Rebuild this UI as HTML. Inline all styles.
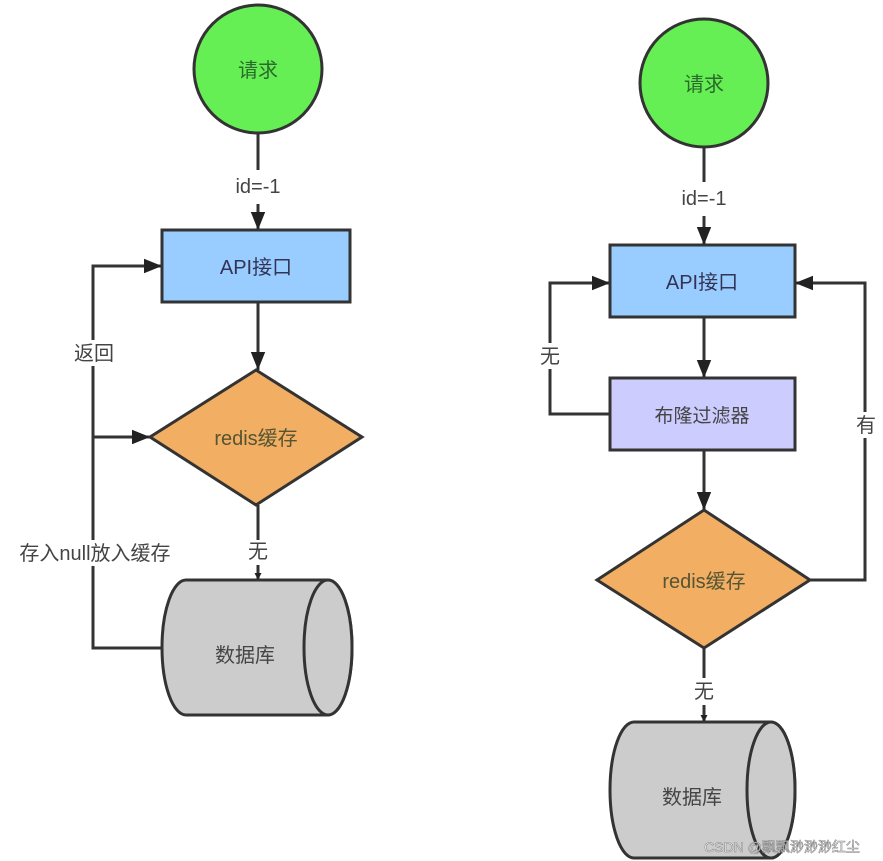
<!DOCTYPE html>
<html><head><meta charset="utf-8"><style>body{margin:0;background:#fff}svg{display:block}text{font-family:"Liberation Sans","Noto Sans CJK SC",sans-serif}</style></head><body>
<svg width="883" height="861" viewBox="0 0 883 861">
<defs><marker id="a" viewBox="0 0 10 10" refX="10" refY="5" markerWidth="7" markerHeight="7" orient="auto" markerUnits="userSpaceOnUse"><path d="M0,0L10,5L0,10z" fill="#222"/></marker>
<marker id="b" viewBox="0 0 10 10" refX="10" refY="5" markerWidth="18" markerHeight="18" orient="auto" markerUnits="userSpaceOnUse"><path d="M0,1L10,5L0,9z" fill="#222"/></marker></defs>
<g stroke="#333" stroke-width="3" fill="none">
<!-- left -->
<line x1="258" y1="133" x2="258" y2="170"/>
<line x1="258" y1="204" x2="258" y2="230" marker-end="url(#b)"/>
<line x1="258" y1="302" x2="258" y2="370" marker-end="url(#b)"/>
<line x1="258" y1="505" x2="258" y2="540"/>
<line x1="258" y1="565" x2="258" y2="580" marker-end="url(#a)"/>
<polyline points="162,648 93,648 93,266 162,266" marker-end="url(#b)"/>
<line x1="93" y1="437" x2="150" y2="437" marker-end="url(#b)"/>
<!-- right -->
<line x1="704" y1="147" x2="704" y2="182"/>
<line x1="704" y1="216" x2="704" y2="245" marker-end="url(#b)"/>
<line x1="704" y1="317" x2="704" y2="378" marker-end="url(#b)"/>
<line x1="704" y1="450" x2="704" y2="510" marker-end="url(#b)"/>
<line x1="704" y1="648" x2="704" y2="678"/>
<line x1="704" y1="705" x2="704" y2="722" marker-end="url(#a)"/>
<polyline points="810,580 865,580 865,283 795,283" marker-end="url(#b)"/>
<polyline points="610,414 550,414 550,283 610,283" marker-end="url(#b)"/>
</g>
<g stroke="#333" stroke-width="3">
<circle cx="258" cy="69" r="64" fill="#66ee55"/>
<rect x="162" y="230" width="188" height="72" fill="#99ccff"/>
<polygon points="150,437 256,370 362,437 256,505" fill="#f2ae63"/>
<path d="M186,580 H328 A24,67.5 0 0 1 328,715 H186 A24,67.5 0 0 1 186,580z" fill="#cccccc"/>
<ellipse cx="328" cy="647.5" rx="24" ry="67.5" fill="#cccccc"/>
<circle cx="704" cy="83" r="64" fill="#66ee55"/>
<rect x="610" y="245" width="185" height="72" fill="#99ccff"/>
<rect x="610" y="378" width="185" height="72" fill="#ccccff"/>
<polygon points="597,580 704,510 810,580 704,648" fill="#f2ae63"/>
<path d="M634,722 H771 A24,68 0 0 1 771,858 H634 A24,68 0 0 1 634,722z" fill="#cccccc"/>
<ellipse cx="771" cy="790" rx="24" ry="68" fill="#cccccc"/>
</g>
<g font-size="20" fill="#444" text-anchor="middle">
<text x="258" y="77" fill="#2a6a2a">请求</text>
<text x="258" y="193">id=-1</text>
<text x="256" y="274" fill="#335">API接口</text>
<text x="256" y="445" fill="#553">redis缓存</text>
<text x="258" y="558">无</text>
<text x="245" y="662">数据库</text>
<rect x="70" y="340" width="48" height="26" fill="#fff"/>
<text x="94" y="360">返回</text>
<rect x="0" y="540" width="190" height="26" fill="#fff"/>
<text x="95" y="560">存入null放入缓存</text>
<text x="704" y="91" fill="#2a6a2a">请求</text>
<text x="704" y="205">id=-1</text>
<text x="702" y="289" fill="#335">API接口</text>
<text x="702" y="422" font-size="19">布隆过滤器</text>
<text x="704" y="588" fill="#553">redis缓存</text>
<text x="704" y="698">无</text>
<text x="692" y="804">数据库</text>
<rect x="538" y="343" width="24" height="26" fill="#fff"/>
<text x="550" y="363">无</text>
<rect x="853" y="412" width="24" height="26" fill="#fff"/>
<text x="866" y="432">有</text>
<text x="782" y="852" font-size="14" fill="#fff" stroke="#888" stroke-width="0.6">CSDN @飘飘渺渺渺红尘</text>
</g>
</svg>
</body></html>
